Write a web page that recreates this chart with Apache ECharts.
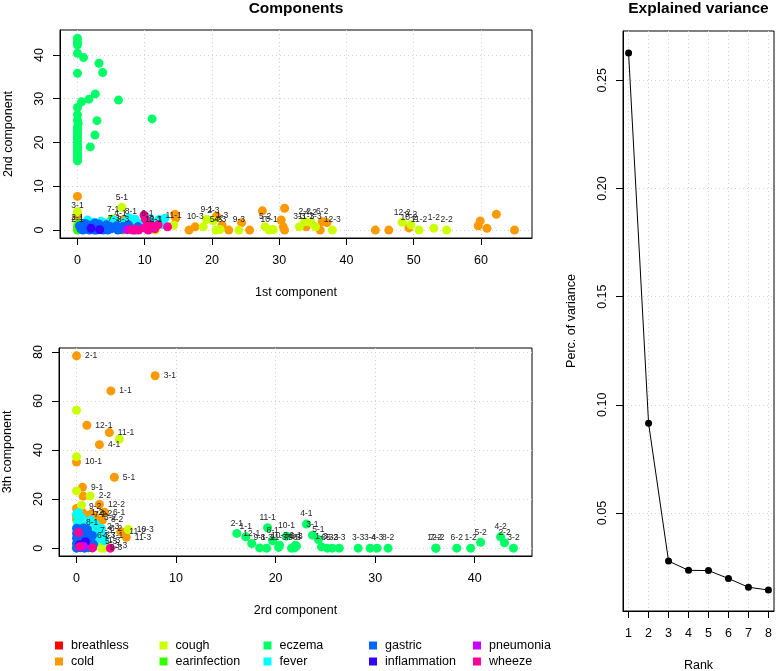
<!DOCTYPE html>
<html><head><meta charset="utf-8">
<script src="https://cdn.jsdelivr.net/npm/echarts@6/dist/echarts.min.js"></script>
<style>html,body{margin:0;padding:0;background:#fff}#c{width:777px;height:671px}</style>
</head><body><div id="c"></div>
<script>
// ---------- categories ----------
const categories = ['breathless','cold','cough','earinfection','eczema','fever','gastric','inflammation','pneumonia','wheeze'];
const colors = ['#FF0000','#FF9900','#CCFF00','#33FF00','#00FF66','#00FFFF','#0066FF','#3300FF','#CC00FF','#FF0099'];

// ---------- top panel: [1st component, 2nd component, label] ----------
const breathlessTop = [[0.3,0.4,''],[10.9,0.9,'']];
const coldTop = [
 [0,7.7,''],[0,3.4,'3-1'],[0,0.2,'2-1'],[6.9,2.4,''],[6.8,0,'8-3'],[8.4,0.6,''],[11.3,0.15,'12-1'],
 [14.5,3.6,''],[14.6,2.7,''],[16.6,0,''],[17.5,0.75,'10-3'],[20.7,3.2,''],[21.5,1.1,'1-3'],[22.5,0,''],
 [24.4,1.7,''],[25.6,0,''],[27.5,4.4,''],[30.8,5.0,''],[30.3,2.3,''],[30.6,0.75,''],[30.8,0,''],
 [34.0,0.75,'11-3'],[36.4,1.9,'6-2'],[37.1,1.7,''],[36.1,0,''],[44.3,0,''],[46.3,0,''],[49.3,0.5,'10-2'],
 [59.6,1.0,''],[59.9,2.1,''],[60.9,0.4,''],[62.3,3.6,''],[65.0,0,'']
];
const coughTop = [
 [0,4.2,''],[0,0.5,'2-1'],[0,1.4,''],[6.6,5.2,'5-1'],[5.3,2.4,'7-1'],[6.4,1.4,'4-1'],[7.95,2.0,'8-1'],
 [5.4,0.4,'7-3'],[11.6,0,'6-3'],[14.3,1.1,'11-1'],[18.7,0.75,''],[19.2,2.4,'9-1'],[20.2,2.1,'2-3'],
 [20.6,0,'5-3'],[21.2,0.15,'4-3'],[24.0,0,'9-3'],[27.9,0.75,'5-2'],[28.5,0,'10-1'],[29.1,0.15,''],
 [33.0,0.75,'3-3'],[33.8,1.9,'2-2'],[34.7,1.75,'4-2'],[35.4,0.75,'1-3'],[37.9,0,'12-3'],[48.3,1.8,'12-2'],
 [49.6,1.2,'9-2'],[50.8,0,'11-2'],[53.0,0.45,'1-2'],[54.9,0,'2-2']
];
const earinfectionTop = [[0,0,''],[0,0.6,''],[0.3,1.1,''],[0.6,0.1,''],[0.2,1.6,''],[4.0,1.6,''],[5.1,2.5,''],[2.4,0.3,''],[0.9,0.5,'']];
const eczemaTop = [
 [0,43.8,''],[0,43.0,''],[0,42.3,''],[0,40.4,''],[0.9,39.4,''],[3.2,38.1,''],[3.75,36.0,''],[0,35.8,''],
 [2.65,31.1,''],[1.7,29.9,''],[6.1,29.7,''],[0.6,29.3,''],[0,28.0,''],[0,26.3,''],[11.1,25.4,''],[2.9,25.0,''],
 [0,25.1,''],[0.1,24.4,''],[0,23.6,''],[0,23.0,''],[0,22.4,''],[0,21.8,''],[2.6,21.7,''],[0,21.2,''],
 [0,20.6,''],[0,20.0,''],[0,19.4,''],[1.9,19.0,''],[0,18.8,''],[0,18.2,''],[0,17.6,''],[0,17.0,''],
 [0,16.4,''],[0,15.8,'']
];
const feverTop = [
 [1.5,2.3,''],[2.5,1.8,''],[3.5,2.0,''],[4.5,1.6,''],[5.5,2.2,''],[6.5,1.3,''],[7.1,2.0,''],[8.0,1.8,''],
 [8.6,2.5,''],[9.1,1.5,''],[9.6,0.8,''],[10.1,2.0,''],[11.0,1.7,''],[12.1,2.4,''],[13.0,2.7,''],[7.7,2.8,''],
 [1.0,1.6,''],[4.1,1.0,''],[6.0,0.5,''],[12.6,1.2,''],[10.8,2.6,'']
];
const gastricTop = [
 [0.5,0.3,''],[1.0,0.8,''],[1.5,0.2,''],[2.0,0.5,''],[2.5,0,''],[3.0,0.7,''],[3.5,0.2,''],[4.0,0.4,''],
 [4.5,0,''],[5.0,0.3,''],[5.5,0.6,''],[6.0,0,''],[6.5,0.2,''],[7.0,0.5,''],[7.6,1.2,''],[8.1,0.3,''],
 [8.6,0,''],[9.0,0.8,''],[1.2,1.5,''],[2.2,1.2,''],[3.2,1.4,''],[0.8,0,''],[1.8,0,''],[2.8,0,''],
 [3.8,0,''],[4.8,0.9,''],[5.8,1.0,''],[6.8,0.9,''],[10.4,0.5,''],[0.3,1.0,''],[2.6,1.6,''],[4.3,1.2,'']
];
const inflammationTop = [[2.0,0.4,''],[3.3,0.1,'']];
const pneumoniaTop = [[7.4,0.1,''],[8.3,0,'']];
const wheezeTop = [
 [8.5,0.2,''],[9.1,0,''],[10.0,0.5,''],[10.5,0,''],[11.0,1.0,''],[11.5,0.3,''],[12.0,1.2,''],
 [13.4,0.75,''],[9.9,3.4,''],[10.1,2.5,''],[10.4,1.4,'6-1'],[8.0,0.1,'']
];

// ---------- bottom panel: [2nd component, 3rd component, label] ----------
const breathlessBottom = [[0.5,2.0,''],[1.1,0.6,'']];
const coldBottom = [
 [0,78.4,'2-1'],[7.9,70.3,'3-1'],[3.45,64.1,'1-1'],[1.04,50.1,'12-1'],[3.3,47.1,'11-1'],[2.3,42.2,'4-1'],
 [0,35.1,'10-1'],[3.8,28.9,'5-1'],[0.6,24.8,'9-1'],[0.67,21.2,''],[2.3,17.8,'12-2'],[0,16.2,''],
 [0.4,16.8,'9-2'],[0.6,14.5,'1-2'],[0.9,13.5,'7-2'],[1.5,14.0,'4-2'],[2.8,14.6,'6-1'],[2.2,8.9,'2-3'],
 [4.45,6.7,'11-2'],[5.0,4.4,'11-3'],[0,13.0,''],[0,11.6,''],[1.9,12.6,'3-2'],[0.2,9.8,''],[2.6,11.5,'8-2']
];
const coughBottom = [
 [0,56.2,''],[4.3,44.5,''],[0,37.3,''],[0,23.3,''],[1.37,21.3,'2-2'],[5.2,7.6,'10-3'],[1.5,0.4,''],
 [2.5,0,'9-3'],[2.0,2.5,'5-3'],[3.0,1.0,'3-3'],[0.9,1.6,''],[2.3,3.1,'1-3'],[1.8,5.0,'4-3'],[2.8,0,''],
 [1.2,0,''],[0.5,17.5,'']
];
const earinfectionBottom = [[0,0.8,''],[1.3,0.5,''],[0.1,11.2,''],[2.1,8.3,'']];
const eczemaBottom = [
 [16.1,6.0,'2-1'],[17.0,4.6,'1-1'],[17.6,1.9,'12-1'],[18.4,0.1,'9-1'],[19.1,0,'8-3'],[19.2,8.3,'11-1'],
 [19.7,3.0,'8-1'],[20.3,0.3,'11-3'],[20.4,1.2,'10-3'],[21.1,4.9,'10-1'],[21.6,0,'7-3'],[21.9,0.1,'9-3'],
 [22.1,0.8,'6-3'],[22.0,1.2,'6-1'],[23.1,9.8,'4-1'],[23.7,5.3,'3-1'],[24.3,3.5,'5-1'],[24.6,0.5,'1-3'],
 [25.2,0,'6-3'],[25.7,0,'5-3'],[26.4,0,'2-3'],[28.3,0,'3-3'],[29.5,0,'3-4'],[30.2,0,'4-3'],[31.3,0,'8-2'],
 [36.1,0,'12-2'],[36.1,0,'7-2'],[38.2,0,'6-2'],[39.6,0,'1-2'],[40.6,2.4,'5-2'],[42.6,4.6,'4-2'],
 [43.0,2.2,'2-2'],[43.9,0,'3-2']
];
const feverBottom = [
 [0.1,10.5,'8-1'],[0.5,12.5,''],[0,13.8,''],[1.0,9.5,''],[1.5,7.0,'7-3'],[2.0,6.0,''],[2.5,8.0,'6-2'],
 [1.2,5.0,'6-3'],[0.3,8.5,''],[2.2,4.0,''],[1.8,2.0,''],[0.8,3.5,''],[2.8,3.0,''],[1.4,11.5,''],
 [0.2,14.5,''],[1.9,9.8,''],[0.7,6.8,''],[2.6,5.2,'7-1']
];
const gastricBottom = [
 [0,0,''],[0.4,0.2,''],[0.8,0,''],[1.2,0.3,''],[1.6,0.1,''],[0,1.9,''],[0.4,2.2,''],[0.9,1.8,''],
 [1.3,2.1,''],[1.7,1.6,''],[0,4.1,''],[0.5,3.9,''],[0.9,4.2,''],[1.4,3.8,''],[0,6.0,''],[0.4,6.3,''],
 [0.8,5.9,''],[1.2,6.1,''],[0,8.1,''],[0.3,7.8,''],[0.7,8.2,''],[1.1,7.6,''],[1.6,5.2,''],[0.2,1.0,''],
 [0.6,1.1,''],[1.0,3.0,''],[0.3,5.0,''],[1.5,4.6,'']
];
const inflammationBottom = [[0.3,1.4,''],[0.9,2.6,'']];
const pneumoniaBottom = [[0.7,0.8,'']];
const wheezeBottom = [[3.4,0,''],[0.3,0.6,''],[1.6,0.2,''],[0.2,6.4,'']];

// ---------- explained variance ----------
const varRank = [1,2,3,4,5,6,7,8];
const varValues = [0.2626,0.0915,0.0278,0.0235,0.0234,0.0197,0.0157,0.0144];

// ---------- tick labels ----------
const ticksTopX = [0,10,20,30,40,50,60];
const ticksTopY = [0,10,20,30,40];
const ticksBotX = [0,10,20,30,40];
const ticksBotY = [0,20,40,60,80];
const ticksVarX = [1,2,3,4,5,6,7,8];
const ticksVarY = [0.05,0.10,0.15,0.20,0.25];
const ticksVarYLabels = ['0.05','0.10','0.15','0.20','0.25'];

const topData = [breathlessTop,coldTop,coughTop,earinfectionTop,eczemaTop,feverTop,gastricTop,inflammationTop,pneumoniaTop,wheezeTop];
const botData = [breathlessBottom,coldBottom,coughBottom,earinfectionBottom,eczemaBottom,feverBottom,gastricBottom,inflammationBottom,pneumoniaBottom,wheezeBottom];

const FF = '"Liberation Sans", Arial, Helvetica, sans-serif';
const FS = 12.5;

function axis(isX, gridIndex, min, max, ticks, name, fmt) {
  return {
    type: 'value', gridIndex, min, max,
    name, nameLocation: 'middle', nameGap: isX ? 48 : 45, nameRotate: isX ? 0 : 90,
    nameTextStyle: {fontSize: FS, color: '#000', fontFamily: FF},
    axisLine: {show: true, onZero: false, lineStyle: {color: '#000', width: 1}},
    axisTick: {show: true, inside: false, length: 7, customValues: ticks, lineStyle: {color: '#000', width: 1}},
    axisLabel: {show: true, customValues: ticks, margin: isX ? 16 : 14, rotate: isX ? 0 : 90,
      fontSize: FS, color: '#000', fontFamily: FF, formatter: fmt || (v => String(v))},
    splitLine: {show: true, lineStyle: {color: '#d3d3d3', type: [1, 3], width: 1}},
    minorTick: {show: false}
  };
}

const series = [];
categories.forEach((c, i) => {
  series.push({
    name: c, type: 'scatter', xAxisIndex: 0, yAxisIndex: 0, data: topData[i],
    symbol: 'circle', symbolSize: 9, itemStyle: {color: colors[i], opacity: 1},
    label: {show: true, position: 'top', distance: 1, fontSize: 8.5, fontFamily: FF, color: '#222',
      formatter: p => p.data[2] || ''},
    emphasis: {disabled: true}, animation: false
  });
  series.push({
    name: c, type: 'scatter', xAxisIndex: 1, yAxisIndex: 1, data: botData[i],
    symbol: 'circle', symbolSize: 9, itemStyle: {color: colors[i], opacity: 1},
    label: {show: true, position: c === 'eczema' ? 'top' : 'right', distance: c === 'eczema' ? 1 : 4,
      fontSize: 8.5, fontFamily: FF, color: '#222', formatter: p => p.data[2] || ''},
    emphasis: {disabled: true}, animation: false
  });
});
series.push({
  name: 'Explained variance', type: 'line', xAxisIndex: 2, yAxisIndex: 2,
  data: varRank.map((r, i) => [r, varValues[i]]),
  symbol: 'circle', symbolSize: 7, showSymbol: true,
  lineStyle: {color: '#000', width: 1}, itemStyle: {color: '#000'},
  emphasis: {disabled: true}, animation: false
});

const legendCols = [[0,1],[2,3],[4,5],[6,7],[8,9]];
const legendLefts = [55, 159.5, 263.5, 369, 473];
const legends = legendCols.map((col, k) => ({
  orient: 'vertical', left: legendLefts[k], top: 638.5, padding: 0, itemGap: 2,
  icon: 'rect', itemWidth: 8, itemHeight: 8, selectedMode: false,
  data: col.map(i => categories[i]),
  textStyle: {fontSize: FS, color: '#000', fontFamily: FF, lineHeight: 14, padding: [0, 0, 0, 3]}
}));

const gridBase = {show: true, borderColor: '#000', borderWidth: 1, containLabel: false, outerBoundsMode: 'none'};

const chart = echarts.init(document.getElementById('c'), null, {renderer: 'canvas'});
chart.setOption({
  animation: false,
  backgroundColor: '#fff',
  color: colors,
  grid: [
    Object.assign({left: 60, top: 30, width: 472, height: 208}, gridBase),
    Object.assign({left: 59, top: 348, width: 473, height: 208}, gridBase),
    Object.assign({left: 623, top: 31, width: 151, height: 580}, gridBase)
  ],
  xAxis: [
    axis(true, 0, -2.6, 67.6, ticksTopX, '1st component'),
    axis(true, 1, -1.76, 45.76, ticksBotX, '2rd component'),
    axis(true, 2, 0.72, 8.28, ticksVarX, 'Rank')
  ],
  yAxis: [
    axis(false, 0, -1.8, 45.7, ticksTopY, '2nd component'),
    axis(false, 1, -3.2, 81.6, ticksBotY, '3th component'),
    axis(false, 2, 0.0047, 0.2728, ticksVarY, 'Perc. of variance',
      v => { const k = ticksVarY.findIndex(t => Math.abs(t - v) < 1e-9); return k >= 0 ? ticksVarYLabels[k] : ''; })
  ],
  legend: legends,
  graphic: [
    {type: 'text', x: 296, y: 9, style: {text: 'Components', font: 'bold 15.5px ' + FF,
      textAlign: 'center', textVerticalAlign: 'middle', align: 'center', verticalAlign: 'middle', fill: '#000'}},
    {type: 'text', x: 698.5, y: 9, style: {text: 'Explained variance', font: 'bold 15.5px ' + FF,
      textAlign: 'center', textVerticalAlign: 'middle', align: 'center', verticalAlign: 'middle', fill: '#000'}}
  ],
  series
});
</script>
</body></html>
